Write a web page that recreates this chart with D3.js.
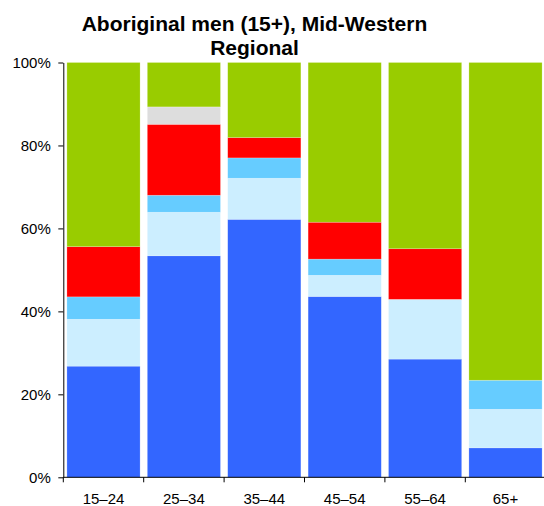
<!DOCTYPE html>
<html>
<head>
<meta charset="utf-8">
<script src="https://cdn.jsdelivr.net/npm/d3@7"></script>
<style>
  body { margin: 0; background: #fff; }
  svg { display: block; font-family: "Liberation Sans", Arial, sans-serif; }
</style>
</head>
<body>
<div id="chart"></div>
<script>
// Age groups along the x axis
const categories = ["15–24", "25–34", "35–44", "45–54", "55–64", "65+"];

// Series (bottom to top), percent of each age group
const seriesNames = ["s1", "s2", "s3", "s4", "s5", "s6"];
const s1 = [26.8, 53.4, 62.2, 43.6, 28.5, 7.1];
const s2 = [11.3, 10.5, 9.9, 5.1, 14.4, 9.3];
const s3 = [5.4, 4.1, 4.9, 3.9, 0, 7.0];
const s4 = [12.1, 17.1, 4.9, 8.9, 12.2, 0];
const s5 = [0, 4.2, 0, 0, 0, 0];
const s6 = [44.4, 10.7, 18.1, 38.5, 44.9, 76.6];
const colors = ["#3366ff", "#cceeff", "#66ccff", "#ff0000", "#dddddd", "#99cc00"];

const yTicks = [0, 0.2, 0.4, 0.6, 0.8, 1];

const width = 544, height = 506;
const margin = { top: 62.5, right: -1.7, bottom: 28.7, left: 63.3 };

const svg = d3.select("#chart").append("svg")
  .attr("width", width)
  .attr("height", height);

// build rows for the stack
const seriesValues = [s1, s2, s3, s4, s5, s6];
const rows = categories.map((c, i) => {
  const r = { cat: c };
  seriesNames.forEach((s, j) => r[s] = seriesValues[j][i]);
  return r;
});

const stacked = d3.stack().keys(seriesNames).offset(d3.stackOffsetExpand)(rows);

const x = d3.scaleBand()
  .domain(categories)
  .range([margin.left, width - margin.right])
  .paddingInner(0.09)
  .paddingOuter(0.045);

const y = d3.scaleLinear()
  .domain([0, 1])
  .range([height - margin.bottom, margin.top]);

// bars
svg.append("g").selectAll("g")
  .data(stacked)
  .join("g")
  .attr("fill", (d, i) => colors[i])
  .selectAll("rect")
  .data(d => d.filter(p => p[1] - p[0] > 0))
  .join("rect")
  .attr("x", d => x(d.data.cat))
  .attr("y", d => y(d[1]))
  .attr("width", x.bandwidth())
  .attr("height", d => y(d[0]) - y(d[1]))
  .attr("stroke", "#fff")
  .attr("stroke-opacity", 0.35)
  .attr("stroke-width", 0.6);

// y axis
const yAxis = svg.append("g")
  .attr("transform", `translate(${margin.left},0)`)
  .call(d3.axisLeft(y).tickValues(yTicks).tickFormat(d3.format(".0%")).tickSize(5).tickSizeOuter(0));
yAxis.selectAll("text").attr("font-size", 15).attr("fill", "#000").attr("dx", "-0.3em");
yAxis.selectAll("line, path").attr("stroke", "#000");

// x axis: line, ticks at band boundaries, labels centered
const xAxis = svg.append("g");
const y0 = y(0);
xAxis.append("line")
  .attr("x1", margin.left).attr("x2", width)
  .attr("y1", y0).attr("y2", y0)
  .attr("stroke", "#000");
const half = x.step() * x.paddingInner() / 2;
const bounds = categories.map(c => x(c) - half);
xAxis.selectAll(".tk")
  .data(bounds)
  .join("line")
  .attr("x1", d => d).attr("x2", d => d)
  .attr("y1", y0).attr("y2", y0 + 5)
  .attr("stroke", "#000");
xAxis.selectAll("text")
  .data(categories)
  .join("text")
  .attr("x", d => x(d) + x.bandwidth() / 2)
  .attr("y", 504)
  .attr("text-anchor", "middle")
  .attr("font-size", 15)
  .text(d => d);

// title
const title = svg.append("text")
  .attr("text-anchor", "middle")
  .attr("font-size", 21)
  .attr("font-weight", "bold");
title.append("tspan").attr("x", 254.5).attr("y", 31).text("Aboriginal men (15+), Mid-Western");
title.append("tspan").attr("x", 254.5).attr("y", 55).text("Regional");
</script>
</body>
</html>
